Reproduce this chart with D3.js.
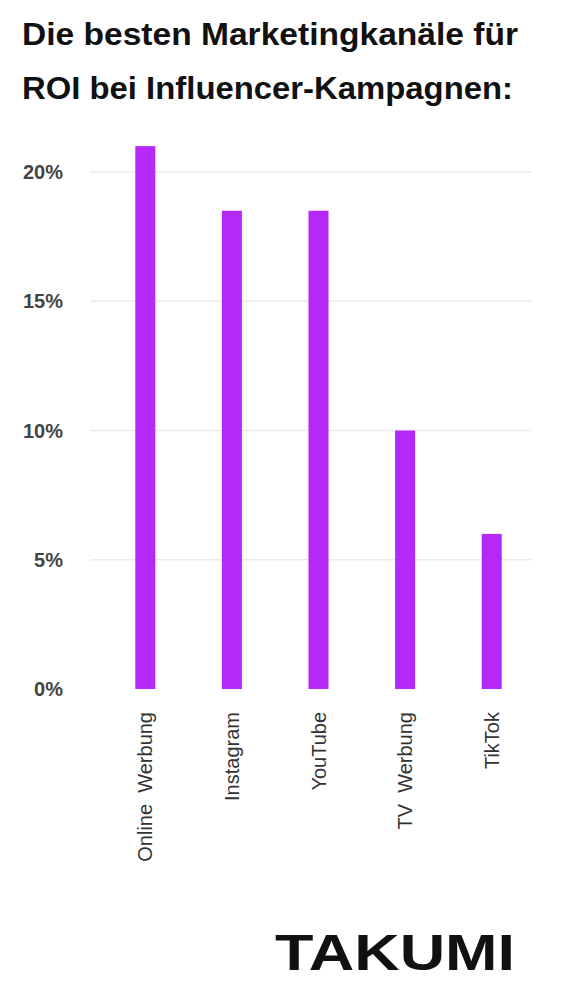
<!DOCTYPE html>
<html><head><meta charset="utf-8">
<script src="https://cdn.jsdelivr.net/npm/d3@7"></script>
<style>body{margin:0;background:#fff}svg{font-family:"Liberation Sans",Arial,sans-serif}</style>
</head><body>
<svg id="c" width="564" height="1000"></svg>
<script>
const categories=["Online  Werbung","Instagram","YouTube","TV  Werbung","TikTok"];
const values=[21,18.5,18.5,10,6];
const ticks=[0,5,10,15,20];
const svg=d3.select("#c");
svg.append("text").attr("x",22).attr("y",45).attr("font-size",31).attr("font-weight","bold").attr("textLength",496).attr("lengthAdjust","spacingAndGlyphs").attr("fill","#111").text("Die besten Marketingkanäle für");
svg.append("text").attr("x",22).attr("y",99).attr("font-size",31).attr("font-weight","bold").attr("textLength",491).attr("lengthAdjust","spacingAndGlyphs").attr("fill","#111").text("ROI bei Influencer-Kampagnen:");
const x=d3.scaleBand().domain(categories).range([102,535]);
const y=d3.scaleLinear().domain([0,20]).range([689,172]);
svg.append("g").selectAll("line").data(ticks.filter(t=>t>0)).join("line")
 .attr("x1",90).attr("x2",532).attr("y1",d=>y(d)).attr("y2",d=>y(d)).attr("stroke","#ebebeb").attr("stroke-width",1.5);
svg.append("g").selectAll("text").data(ticks).join("text")
 .attr("x",63).attr("y",d=>y(d)+7).attr("text-anchor","end").attr("font-size",20).attr("font-weight","bold").attr("fill","#444").text(d=>d+"%");
svg.append("g").selectAll("rect").data(values).join("rect")
 .attr("x",(d,i)=>x(categories[i])+x.bandwidth()/2-10).attr("width",20)
 .attr("y",d=>y(d)).attr("height",d=>689-y(d)).attr("fill","#b428fa");
svg.append("g").selectAll("text").data(categories).join("text")
 .attr("transform",d=>`translate(${x(d)+x.bandwidth()/2+7},712) rotate(-90)`)
 .attr("text-anchor","end").attr("font-size",20).attr("fill","#333").attr("xml:space","preserve").text(d=>d);
svg.append("text").attr("x",275).attr("y",970).attr("font-size",50).attr("font-weight","bold").attr("textLength",240).attr("lengthAdjust","spacingAndGlyphs").attr("fill","#111").text("TAKUMI");
</script></body></html>
